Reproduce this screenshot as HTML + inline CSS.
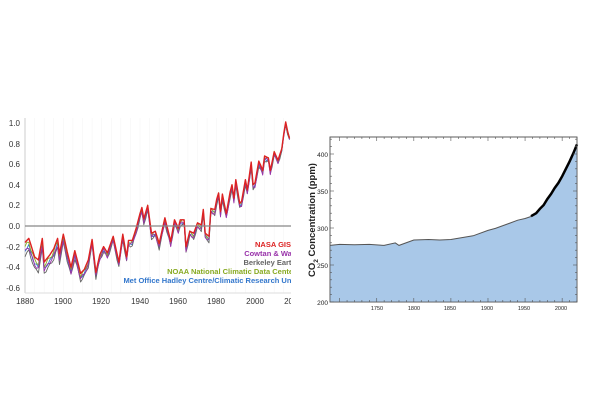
<!DOCTYPE html>
<html><head><meta charset="utf-8"><style>
html,body{margin:0;padding:0;background:#fff;width:600px;height:400px;overflow:hidden}
svg{display:block;font-family:"Liberation Sans",sans-serif}
</style></head><body>
<svg id="s" width="600" height="400" viewBox="0 0 600 400" xmlns="http://www.w3.org/2000/svg">
<defs><clipPath id="c"><rect x="0" y="100" width="291" height="210"/></clipPath></defs>
<g id="left" clip-path="url(#c)">
<g stroke="#f3f3f3" stroke-width="0.5" id="grid"></g>
<line x1="25" y1="118" x2="25" y2="293" stroke="#ccc"/>
<line x1="25" y1="293" x2="291" y2="293" stroke="#ddd"/>
<g font-size="8" fill="#333" text-anchor="end">
<text x="20" y="126">1.0</text><text x="20" y="147">0.8</text><text x="20" y="167">0.6</text><text x="20" y="188">0.4</text><text x="20" y="208">0.2</text><text x="20" y="229">0.0</text><text x="20" y="250">-0.2</text><text x="20" y="270">-0.4</text><text x="20" y="291">-0.6</text>
</g>
<g font-size="8" fill="#333" text-anchor="middle">
<text x="25" y="304">1880</text><text x="63" y="304">1900</text><text x="101" y="304">1920</text><text x="140" y="304">1940</text><text x="178" y="304">1960</text><text x="216" y="304">1980</text><text x="255" y="304">2000</text><text x="293" y="304">2020</text>
</g>
<g id="series" fill="none" stroke-width="1.1" stroke-linejoin="round"></g>
<line x1="25" y1="226" x2="291" y2="226" stroke="#888" stroke-width="1.2"/>
<g font-size="7.5" font-weight="bold" text-anchor="end">
<text x="296" y="247" fill="#d22">NASA GISS</text>
<text x="296" y="256" fill="#93a">Cowtan &amp; Way</text>
<text x="296" y="265" fill="#666">Berkeley Earth</text>
<text x="296" y="274" fill="#8a2">NOAA National Climatic Data Center</text>
<text x="296" y="283" fill="#37c">Met Office Hadley Centre/Climatic Research Unit</text>
</g>
</g>
<rect x="330" y="137" width="247" height="165" fill="#fff" stroke="#555" stroke-width="0.8"/>
<path id="co2f" fill="#a9c8e8" stroke="none"/>
<path id="co2l" fill="none" stroke="#555" stroke-width="1"/>
<path id="co2b" fill="none" stroke="#000" stroke-width="2.5"/>
<rect x="330" y="137" width="247" height="165" fill="none" stroke="#555" stroke-width="0.8"/>
<g id="ticks" stroke="#555" stroke-width="0.6"></g>
<g font-size="6.5" fill="#222" text-anchor="end">
<text x="328" y="157">400</text><text x="328" y="194">350</text><text x="328" y="231">300</text><text x="328" y="268">250</text><text x="328" y="305">200</text>
</g>
<g font-size="5.5" fill="#222" text-anchor="middle">
<text x="377" y="310">1750</text><text x="414" y="310">1800</text><text x="450" y="310">1850</text><text x="487" y="310">1900</text><text x="524" y="310">1950</text><text x="561" y="310">2000</text>
</g>
<text transform="translate(315,220) rotate(-90)" font-size="9.5" font-weight="bold" fill="#222" text-anchor="middle">CO<tspan font-size="6.5" dy="3">2</tspan><tspan dy="-3"> Concentration (ppm)</tspan></text>
</svg>
<script>
var NS="http://www.w3.org/2000/svg";
function el(p,t,a){var e=document.createElementNS(NS,t);for(var k in a)e.setAttribute(k,a[k]);p.appendChild(e);return e;}
var g=document.getElementById("grid");
for(var yr=1880;yr<=2020;yr+=5){var x=25+(yr-1880)*1.9167;el(g,"line",{x1:x,y1:118,x2:x,y2:293});}
var K=[[1880,-0.16],[1882,-0.12],[1885,-0.3],[1887,-0.33],[1889,-0.12],[1890,-0.35],[1893,-0.28],[1895,-0.22],[1897,-0.12],[1898,-0.27],[1900,-0.08],[1902,-0.25],[1904,-0.4],[1906,-0.24],[1909,-0.46],[1911,-0.42],[1913,-0.33],[1915,-0.13],[1917,-0.45],[1919,-0.28],[1921,-0.2],[1923,-0.26],[1926,-0.1],[1929,-0.35],[1931,-0.08],[1933,-0.3],[1934,-0.14],[1936,-0.14],[1938,-0.02],[1940,0.12],[1941,0.18],[1942,0.07],[1944,0.2],[1946,-0.07],[1948,-0.05],[1950,-0.17],[1953,0.08],[1956,-0.15],[1958,0.06],[1960,-0.02],[1961,0.06],[1963,0.06],[1964,-0.2],[1966,-0.05],[1968,-0.07],[1970,0.03],[1972,0.01],[1973,0.16],[1974,-0.07],[1976,-0.1],[1977,0.17],[1979,0.16],[1980,0.26],[1981,0.32],[1982,0.14],[1983,0.31],[1985,0.12],[1987,0.33],[1988,0.4],[1989,0.27],[1990,0.45],[1992,0.22],[1993,0.24],[1995,0.45],[1996,0.35],[1998,0.62],[1999,0.4],[2000,0.42],[2002,0.63],[2004,0.54],[2005,0.68],[2007,0.66],[2008,0.54],[2010,0.72],[2012,0.64],[2014,0.75],[2015,0.9],[2016,1.01],[2017,0.92],[2018,0.85]];
function val(yr){for(var i=0;i<K.length-1;i++){if(yr<=K[i+1][0]){var t=(yr-K[i][0])/(K[i+1][0]-K[i][0]);return K[i][1]+t*(K[i+1][1]-K[i][1]);}}return K[K.length-1][1];}
var S=[["#37c",-0.03,0.9],["#666",-0.05,1.0],["#8a2",-0.015,1.3],["#93a",-0.035,1.1],["#d22",0,0]];
var sg=document.getElementById("series");
S.forEach(function(s,j){var d="";for(var yr=1880;yr<=2018;yr++){var early=yr<1920?(1920-yr)/40:0;var late=yr>2000?(yr-2000)/18*0.6:0;var v=val(yr)+s[1]*(1+early*1.5)-s[1]*late+s[2]*0.015*Math.sin(yr*1.7+j);var x=25+(yr-1880)*1.9167,y=226-v*103;d+=(yr==1880?"M":"L")+x.toFixed(1)+","+y.toFixed(1);}
el(sg,"path",{d:d,stroke:s[0],"stroke-width":j==4?1.4:0.9});});
var C=[[1687,277],[1700,277],[1720,278],[1740,277],[1760,277],[1775,279],[1780,277],[1800,283],[1820,285],[1835,283],[1850,285],[1870,287],[1880,290],[1900,296],[1910,300],[1930,306],[1940,311],[1950,312],[1958,316]];
function cx(yr){return 330+(yr-1687)*0.7417;}function cy(v){return 302-(v-200)*0.74;}
var d="";C.forEach(function(p,i){var v=p[1]+(i%2?0.8:-0.5);d+=(i?"L":"M")+cx(p[0]).toFixed(1)+","+cy(v).toFixed(1);});
var B=[[1958,316],[1965,320],[1970,326],[1975,331],[1980,339],[1985,346],[1990,354],[1995,361],[2000,370],[2005,380],[2010,390],[2015,401],[2020,413]];
var db="";B.forEach(function(p,i){db+=(i?"L":"M")+cx(p[0]).toFixed(1)+","+cy(p[1]).toFixed(1);});
document.getElementById("co2l").setAttribute("d",d);
document.getElementById("co2b").setAttribute("d",db);
document.getElementById("co2f").setAttribute("d",d+db.replace("M","L")+"L577,302L330,302Z");
var tk=document.getElementById("ticks");
for(var yr=1700;yr<=2020;yr+=10){var x=cx(yr);var h=(yr%50==0)?4:2;el(tk,"line",{x1:x,y1:302,x2:x,y2:302-h});el(tk,"line",{x1:x,y1:137,x2:x,y2:137+h});}
for(var v=200;v<=420;v+=10){var y=cy(v);var h=(v%50==0)?4:2;el(tk,"line",{x1:330,y1:y,x2:330+h,y2:y});el(tk,"line",{x1:577,y1:y,x2:577-h,y2:y});}
</script>
</body></html>
